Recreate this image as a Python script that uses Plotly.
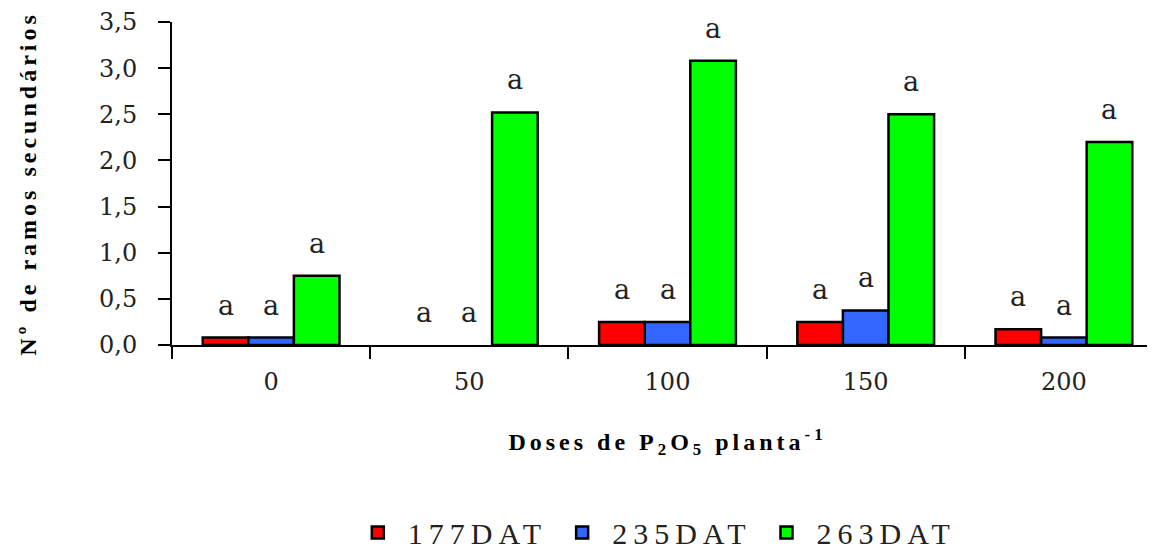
import plotly.graph_objects as go

doses = ["0", "50", "100", "150", "200"]
series_names = ["177DAT", "235DAT", "263DAT"]
v177 = [0.08, 0.0, 0.25, 0.25, 0.17]
v235 = [0.08, 0.0, 0.25, 0.375, 0.08]
v263 = [0.75, 2.52, 3.08, 2.5, 2.2]
letters177 = ["a", "a", "a", "a", "a"]
letters235 = ["a", "a", "a", "a", "a"]
letters263 = ["a", "a", "a", "a", "a"]
colors = ["#FF0000", "#3366FF", "#00FF00"]
y_ticks = [0, 0.5, 1.0, 1.5, 2.0, 2.5, 3.0, 3.5]
y_ticklabels = ["0,0", "0,5", "1,0", "1,5", "2,0", "2,5", "3,0", "3,5"]

BARGAP = 0.31
n_series = 3
bar_w = (1 - BARGAP) / n_series

fig = go.Figure()
annotations = []
for k, (name, vals, letters, col) in enumerate(zip(series_names, [v177, v235, v263],
                                                   [letters177, letters235, letters263], colors)):
    fig.add_trace(go.Bar(
        x=doses, y=vals, name=name,
        marker=dict(color=col, line=dict(color="black",
                                         width=[0 if v == 0 else 2.5 for v in vals])),
    ))
    offset = (k - (n_series - 1) / 2) * bar_w
    for i, (v, t) in enumerate(zip(vals, letters)):
        annotations.append(dict(
            x=i + offset, y=v, xref="x", yref="y", text=t, showarrow=False,
            yanchor="bottom", yshift=15,
            font=dict(family="DejaVu Serif", size=27, color="#222"),
        ))

sp = '<span style="letter-spacing:{}px">{}</span>'

fig.update_layout(
    width=1155, height=552,
    margin=dict(l=164, r=0, t=14, b=215),
    paper_bgcolor="white", plot_bgcolor="white",
    barmode="group", bargap=BARGAP, bargroupgap=0,
    annotations=annotations,
    showlegend=True,
    legend=dict(orientation="h", xref="container", yref="container",
                x=0.56, xanchor="center", y=0.05, yanchor="middle",
                font=dict(family="Liberation Serif", size=30, color="#222"),
                itemwidth=50, tracegroupgap=0),
    xaxis=dict(
        type="category", showline=True, linecolor="black", linewidth=2,
        ticks="outside", tickson="boundaries", ticklen=12, tickwidth=2, tickcolor="black",
        tickfont=dict(family="DejaVu Serif", size=24, color="#222"),
        ticklabelstandoff=14,
        showgrid=False, zeroline=False,
        title=dict(text=sp.format(4, "Doses de P<sub>2</sub>O<sub>5</sub> planta<sup>-1</sup>"),
                   font=dict(family="Liberation Serif", size=24, color="black", weight="bold"),
                   standoff=38),
    ),
    yaxis=dict(
        range=[0, 3.5], tickvals=y_ticks, ticktext=y_ticklabels,
        showline=True, linecolor="black", linewidth=2,
        ticks="outside", ticklen=12, tickwidth=2, tickcolor="black",
        tickfont=dict(family="DejaVu Serif", size=24, color="#222"),
        ticklabelstandoff=16,
        showgrid=False, zeroline=False,
        title=dict(text=sp.format(4, "Nº de ramos secundários"),
                   font=dict(family="Liberation Serif", size=24, color="black", weight="bold"),
                   standoff=56),
    ),
)
for tr, name in zip(fig.data, series_names):
    tr.name = sp.format(6, name)

fig.write_html("out.html")
